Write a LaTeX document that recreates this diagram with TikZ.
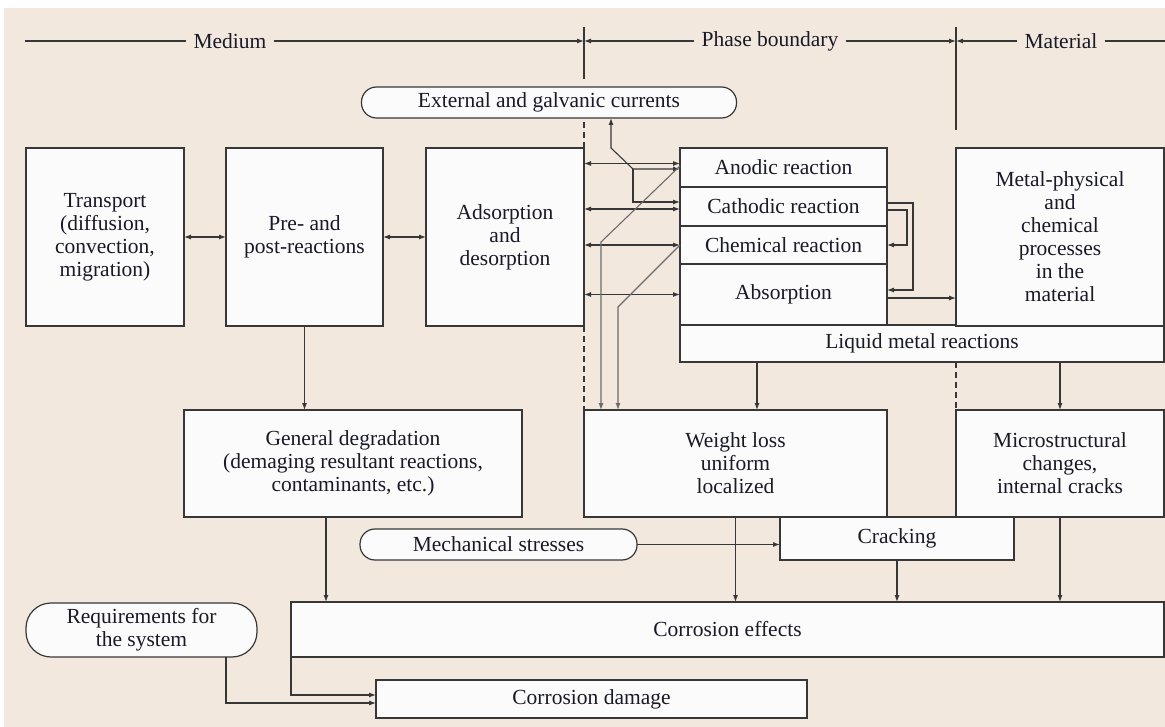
\documentclass[tikz,border=0pt]{standalone}
\usepackage{fontspec}
\setmainfont{Liberation Serif}
\usetikzlibrary{arrows.meta}
\definecolor{bgc}{RGB}{242,232,222}
\definecolor{boxc}{RGB}{251,251,251}
\definecolor{linec}{RGB}{55,55,55}
\definecolor{txtc}{RGB}{25,25,40}
\begin{document}
\begin{tikzpicture}[
    x=1pt, y=-1pt,
    every node/.style={font=\fontsize{21.5}{23}\selectfont, align=center, text=txtc},
    box/.style={rectangle, draw=linec, fill=boxc, line width=1.2pt, inner sep=0pt, outer sep=0pt},
    pill/.style={box, rounded corners=15pt},
    lbl/.style={inner sep=7pt},
    ln/.style={linec, line width=1.1pt},
    arr/.style={-{Latex[length=7pt,width=5pt]}, line width=1.1pt, linec},
    darr/.style={{Latex[length=7pt,width=5pt]}-{Latex[length=7pt,width=5pt]}, line width=1.1pt, linec},
    garr/.style={arr, draw=gray!85!black},
    dline/.style={ln, dash pattern=on 6pt off 4pt}
]
\useasboundingbox (0,0) rectangle (1165,727);
\fill[bgc] (4,8) rectangle (1165,727);

\node[lbl] (med) at (230,41) {Medium};
\node[lbl] (phb) at (770,41) {Phase boundary};
\node[lbl] (mat) at (1061,41) {Material};
\coordinate (tk1) at (584,41);
\coordinate (tk2) at (956,41);
\coordinate (le) at (25,41);
\coordinate (re) at (1165,41);
\draw[ln] (le) -- (med.west);
\draw[arr] (med.east) -- (tk1);
\draw[arr] (phb.west) -- (tk1);
\draw[arr] (phb.east) -- (tk2);
\draw[arr] (mat.west) -- (tk2);
\draw[ln] (mat.east) -- (re);
\draw[ln] (tk1) ++(0,-14) -- ++(0,52);
\draw[ln] (tk2) ++(0,-14) -- ++(0,103);

\node[pill, minimum width=375pt, minimum height=31pt] (ext) at (549,102.5) {External and galvanic currents};

\node[box, minimum width=158pt, minimum height=178pt] (trans) at (105,237) {Transport\\(diffusion,\\convection,\\migration)};
\node[box, minimum width=157pt, minimum height=178pt] (pre) at (304.5,237) {Pre- and\\post-reactions};
\node[box, minimum width=158pt, minimum height=178pt] (ads) at (505,237) {Adsorption\\and\\desorption};

\node[box, minimum width=207pt, minimum height=39pt] (ano) at (783.5,167.5) {Anodic reaction};
\node[box, minimum width=207pt, minimum height=39pt] (cat) at (783.5,206.5) {Cathodic reaction};
\node[box, minimum width=207pt, minimum height=38pt] (chem) at (783.5,245) {Chemical reaction};
\node[box, minimum width=207pt, minimum height=61pt] (abs) at (783.5,294.5) {Absorption};
\node[box, minimum width=484pt, minimum height=37pt] (liq) at (922,343.5) {Liquid metal reactions};
\node[box, minimum width=208pt, minimum height=178pt] (metal) at (1060,237) {Metal-physical\\and\\chemical\\processes\\in the\\material};

\node[box, minimum width=338pt, minimum height=107pt] (gen) at (353,463.5) {General degradation\\(demaging resultant reactions,\\contaminants, etc.)};
\node[box, minimum width=303pt, minimum height=107pt] (wl) at (735.5,463.5) {Weight loss\\uniform\\localized};
\node[box, minimum width=208pt, minimum height=107pt] (micro) at (1060,463.5) {Microstructural\\changes,\\internal cracks};

\node[box, minimum width=234pt, minimum height=43pt] (crack) at (897,538.5) {Cracking};
\node[pill, minimum width=277pt, minimum height=31pt] (mech) at (498.5,544.5) {Mechanical stresses};

\node[pill, rounded corners=25pt, minimum width=231pt, minimum height=54pt] (req) at (141.5,630) {Requirements for\\the system};
\node[box, minimum width=873pt, minimum height=55pt] (ceff) at (727.5,629.5) {Corrosion effects};
\node[box, minimum width=431pt, minimum height=38pt] (cdam) at (591.5,699) {Corrosion damage};

\draw[dline] (ads.north east) -- ++(0,-26);
\draw[dline] (ads.south east) -- (wl.north west);
\draw[dline] (micro.north west |- liq.south) -- (micro.north west);

\draw[darr] (trans.east) -- (pre.west);
\draw[darr] (pre.east) -- (ads.west);
\draw[darr] ([yshift=4pt]ano.west -| ads.east) -- ([yshift=4pt]ano.west);
\draw[darr] ([yshift=-2.5pt]cat.west -| ads.east) -- ([yshift=-2.5pt]cat.west);
\draw[darr] (chem.west -| ads.east) -- (chem.west);
\draw[darr] (abs.west -| ads.east) -- (abs.west);

\draw[darr] ([yshift=-1.5pt]ano.west) -- ++(-47,0) coordinate (g1) -- ++(-22,-21) coordinate (g2) -- (g2 |- ext.south);
\draw[arr] (g1) |- ([yshift=4.5pt]cat.west);

\draw[garr] ([yshift=1.5pt]ano.west) -- ++(-79,76) coordinate (d1) -- (d1 |- wl.north);
\draw[garr] (chem.west) -- ++(-62,62) coordinate (d2) -- (d2 |- wl.north);

\draw[arr] ([yshift=3.5pt]cat.east) -- ++(26,0) |- ([yshift=4.5pt]abs.east);
\draw[arr] ([yshift=-3.5pt]cat.east) -- ++(20,0) |- (chem.east);
\draw[arr] ([yshift=-3.5pt]abs.east) -- ([yshift=-3.5pt]abs.east -| metal.west);

\draw[arr] (pre.south) -- (pre.south |- gen.north);
\draw[arr] ([xshift=21.5pt]wl.north |- liq.south) -- ([xshift=21.5pt]wl.north);
\draw[arr] (micro.north |- liq.south) -- (micro.north);

\draw[arr] (mech.east) -- (mech.east -| crack.west);

\draw[arr] ([xshift=-27pt]gen.south) -- ([xshift=-27pt]gen.south |- ceff.north);
\draw[arr] (wl.south) -- (wl.south |- ceff.north);
\draw[arr] (crack.south) -- (crack.south |- ceff.north);
\draw[arr] (micro.south) -- (micro.south |- ceff.north);

\draw[arr] (ceff.south west) |- ([yshift=4pt]cdam.west);
\draw[arr] ([xshift=84.5pt]req.south) |- ([yshift=-4pt]cdam.west);
\end{tikzpicture}
\end{document}
